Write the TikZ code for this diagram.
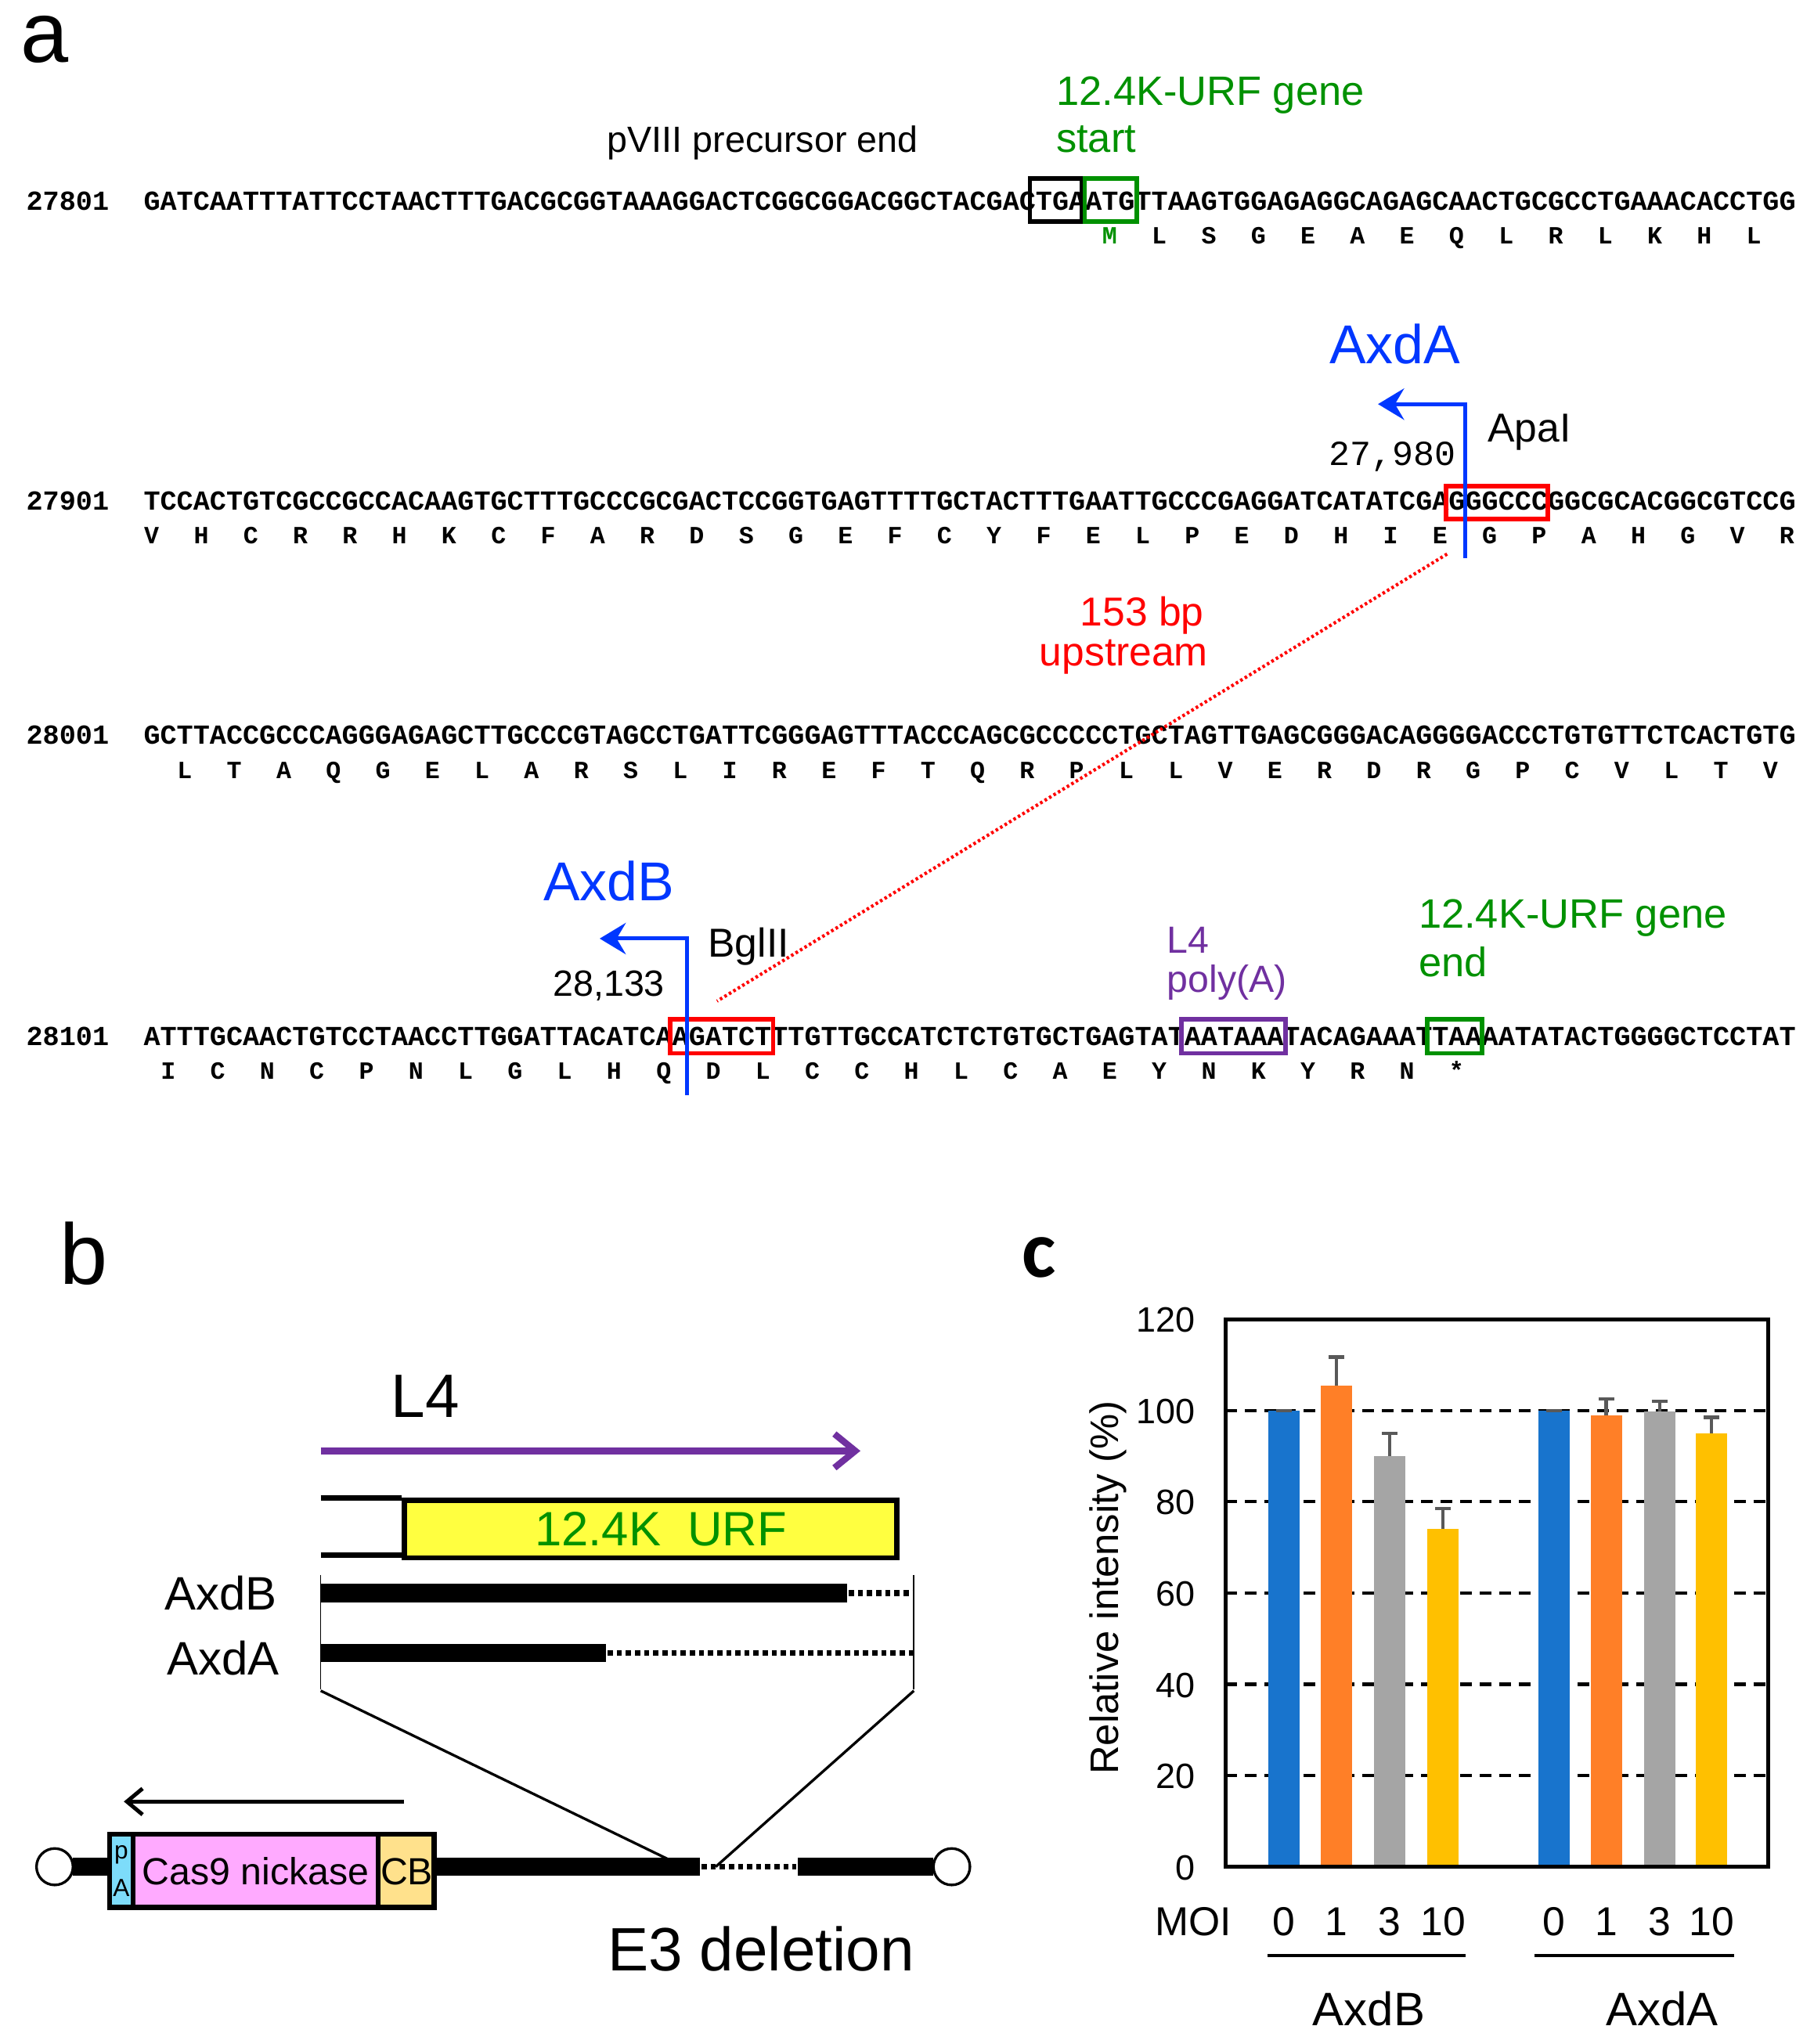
\documentclass[tikz,border=0pt]{standalone}
\usepackage{fontspec}
\setmainfont{Liberation Sans}
\newfontfamily\seqfont{Liberation Mono}
\newfontfamily\calfont{Carlito}
\usetikzlibrary{arrows.meta}
\definecolor{dgreen}{RGB}{0,145,0}
\definecolor{ablue}{RGB}{0,55,255}
\definecolor{ppl}{RGB}{112,48,160}
\definecolor{barblue}{RGB}{24,116,205}
\definecolor{barorange}{RGB}{255,127,39}
\definecolor{bargray}{RGB}{165,165,165}
\definecolor{baryellow}{RGB}{255,192,0}
\definecolor{errgray}{RGB}{89,89,89}
\definecolor{urfyellow}{RGB}{255,255,64}
\definecolor{pacyan}{RGB}{125,220,250}
\definecolor{caspink}{RGB}{255,170,255}
\definecolor{cbyellow}{RGB}{255,225,140}
\newcommand\fs[1]{\fontsize{#1}{#1}\selectfont}
\tikzset{
  seqline/.style={inner sep=0, anchor=base west, font={\seqfont\bfseries\fs{21.12}}},
  aaletter/.style={inner sep=0, anchor=base, font={\seqfont\bfseries\fs{19}}},
  numlabel/.style={inner sep=0, anchor=base west, font={\seqfont\bfseries\fs{21.12}}},
  lbl/.style={inner sep=0, font=\fs{31}},
  sitebox/.style={line width=3.5pt},
  bluearrow/.style={ablue, line width=3pt, -{Stealth[length=20pt,width=24pt,inset=7pt]}},
  thickbar/.style={line width=14pt},
  dotbar/.style={line width=4.5pt, dash pattern=on 4pt off 3pt},
}
\begin{document}
\begin{tikzpicture}[x=1pt,y=-1pt]
\useasboundingbox (0,0) rectangle (1391,1568);
% ---------------- panel a ----------------
\node[inner sep=0, anchor=base west, font=\fs{66}, text height=0.55em] (la) at (16,48) {a};

\node[numlabel] (n1) at (20,161) {27801};
\node[numlabel] (n2) at (20,391) {27901};
\node[numlabel] (n3) at (20,571) {28001};
\node[numlabel] (n4) at (20,802) {28101};

\node[seqline] (s1) at (110,161) {GATCAATTTATTCCTAACTTTGACGCGGTAAAGGACTCGGCGGACGGCTACGACTGAATGTTAAGTGGAGAGGCAGAGCAACTGCGCCTGAAACACCTGG};
\node[seqline] (s2) at (110,391) {TCCACTGTCGCCGCCACAAGTGCTTTGCCCGCGACTCCGGTGAGTTTTGCTACTTTGAATTGCCCGAGGATCATATCGAGGGCCCGGCGCACGGCGTCCG};
\node[seqline] (s3) at (110,571) {GCTTACCGCCCAGGGAGAGCTTGCCCGTAGCCTGATTCGGGAGTTTACCCAGCGCCCCCTGCTAGTTGAGCGGGACAGGGGACCCTGTGTTCTCACTGTG};
\node[seqline] (s4) at (110,802) {ATTTGCAACTGTCCTAACCTTGGATTACATCAAGATCTTTGTTGCCATCTCTGTGCTGAGTATAATAAATACAGAAATTAAAATATACTGGGGCTCCTAT};

% amino acids
\node[aaletter, text=dgreen] (a1-1) at ({110+58.5*12.67},187) {M};
\foreach \amin [count=\idx from 2] in {L,S,G,E,A,E,Q,L,R,L,K,H,L}
  \node[aaletter] (a1-\idx) at ({110+(55.5+3*\idx)*12.67},187) {\amin};
\foreach \amin [count=\idx] in {V,H,C,R,R,H,K,C,F,A,R,D,S,G,E,F,C,Y,F,E,L,P,E,D,H,I,E,G,P,A,H,G,V,R}
  \node[aaletter] (a2-\idx) at ({110+(3*\idx-2.5)*12.67},417) {\amin};
\foreach \amin [count=\idx] in {L,T,A,Q,G,E,L,A,R,S,L,I,R,E,F,T,Q,R,P,L,L,V,E,R,D,R,G,P,C,V,L,T,V}
  \node[aaletter] (a3-\idx) at ({110+(3*\idx-0.5)*12.67},597) {\amin};
\foreach \amin [count=\idx] in {I,C,N,C,P,N,L,G,L,H,Q,D,L,C,C,H,L,C,A,E,Y,N,K,Y,R,N,*}
  \node[aaletter] (a4-\idx) at ({110+(3*\idx-1.5)*12.67},828) {\amin};

% site boxes
\draw[sitebox, black] (790,137) rectangle (830,170);
\draw[sitebox, dgreen] (832,137) rectangle (872,170);
\draw[sitebox, red] (1109,373) rectangle (1187,398);
\draw[sitebox, red] (514,782) rectangle (593,808);
\draw[sitebox, ppl] (906,782) rectangle (986,808);
\draw[sitebox, dgreen] (1095,782) rectangle (1137,808);

% labels line 1
\node[lbl, anchor=base, font=\fs{28}] (pviii) at (585,117) {pVIII precursor end};
\node[lbl, anchor=base west, text=dgreen, font=\fs{31.5}] (urfs1) at (810,81) {12.4K-URF gene};
\node[lbl, anchor=base west, text=dgreen, font=\fs{31.5}] (urfs2) at (810,117) {start};

% AxdA / ApaI
\node[lbl, anchor=base, text=ablue, font=\fs{42}] (axda) at (1070,279) {AxdA};
\node[lbl, anchor=base west] (apai) at (1141,339) {ApaI};
\node[inner sep=0, anchor=base east, font={\seqfont\fs{27}}] (p27980) at (1117,357) {27,980};
\coordinate (apaBot) at (1124,428);
\coordinate (apaTop) at (1124,310);
\coordinate (apaTip) at (1057,310);
\draw[bluearrow] (apaBot) -- (apaTop) -- (apaTip);

% 153 bp
\node[lbl, anchor=base, text=red] (bp153) at (876,480) {153 bp};
\node[lbl, anchor=base, text=red] (upstr) at (862,511) {upstream};
\coordinate (dotA) at (1110,425);
\coordinate (dotB) at (550,768);
\draw[red, line width=2.5pt, dash pattern=on 2pt off 2pt] (dotA) -- (dotB);

% AxdB / BglII
\node[lbl, anchor=base, text=ablue, font=\fs{42}] (axdb) at (467,691) {AxdB};
\node[lbl, anchor=base west] (bglii) at (543,734) {BglII};
\node[lbl, anchor=base east, font=\fs{28}] (p28133) at (510,764) {28,133};
\coordinate (bglBot) at (527,840);
\coordinate (bglTop) at (527,720);
\coordinate (bglTip) at (460,720);
\draw[bluearrow] (bglBot) -- (bglTop) -- (bglTip);

% L4 polyA / URF end
\node[lbl, anchor=base west, text=ppl, font=\fs{29}] (l4a) at (895,731) {L4};
\node[lbl, anchor=base west, text=ppl, font=\fs{29}] (polya) at (895,761) {poly(A)};
\node[lbl, anchor=base west, text=dgreen, font=\fs{31.5}] (urfe1) at (1088,712) {12.4K-URF gene};
\node[lbl, anchor=base west, text=dgreen, font=\fs{31.5}] (urfe2) at (1088,749) {end};

% ---------------- panel b ----------------
\node[inner sep=0, anchor=base west, font=\fs{66}] (lb) at (46,985) {b};
\node[inner sep=0, anchor=base west, font=\fs{47}] (l4b) at (300,1087) {L4};
\coordinate (l4s) at (246,1113);
\coordinate (l4e) at (660,1113);
\draw[ppl, line width=5pt, -{Straight Barb[length=16pt,width=26pt,line width=5pt]}] (l4s) -- (l4e);

\draw[line width=4pt] (246,1149) -- (308,1149) (246,1193) -- (308,1193);
\node[draw, line width=4pt, fill=urfyellow, minimum width=378pt, minimum height=44pt, inner sep=0, anchor=north west] (urf) at (308,1149) {};
\node[inner sep=0, anchor=base, text=dgreen, font=\fs{37}] (urftxt) at (507,1186) {12.4K\ \ URF};

\node[inner sep=0, anchor=base west, font=\fs{36}] (axdbb) at (126,1235) {AxdB};
\node[inner sep=0, anchor=base west, font=\fs{36}] (axdab) at (128,1285) {AxdA};
\draw[thickbar] (246,1222) -- (650,1222);
\draw[dotbar] (651,1222) -- (700,1222);
\draw[thickbar] (246,1268) -- (465,1268);
\draw[dotbar] (466,1268) -- (700,1268);
\draw[line width=1pt] (246,1208) -- (246,1296) (701,1208) -- (701,1296);

\coordinate (zl) at (246,1297);
\coordinate (zr) at (701,1297);
\coordinate (zlb) at (512,1426);
\coordinate (zrb) at (549,1432);
\draw[line width=2pt] (zl) -- (zlb) (zr) -- (zrb);

\coordinate (casA) at (310,1382);
\coordinate (casB) at (95,1382);
\draw[line width=3pt, -{Straight Barb[length=12pt,width=20pt,line width=3pt]}] (casA) -- (casB);

\draw[thickbar] (56,1432) -- (84,1432);
\draw[thickbar] (333,1432) -- (537,1432);
\draw[dotbar] (538,1432) -- (611,1432);
\draw[thickbar] (612,1432) -- (716,1432);
\node[draw, line width=2pt, circle, fill=white, minimum size=28pt, inner sep=0] (ltr1) at (42,1432) {};
\node[draw, line width=2pt, circle, fill=white, minimum size=28pt, inner sep=0] (ltr2) at (730,1432) {};

\fill[pacyan] (84,1407) rectangle (102,1463);
\fill[caspink] (102,1407) rectangle (290,1463);
\fill[cbyellow] (290,1407) rectangle (333,1463);
\draw[line width=4pt] (84,1407) rectangle (333,1463) (102,1407) -- (102,1463) (290,1407) -- (290,1463);
\node[inner sep=0, anchor=base, font=\fs{19}] (pap) at (93,1426) {p};
\node[inner sep=0, anchor=base, font=\fs{19}] (paa) at (93,1455) {A};
\node[inner sep=0, anchor=base, font=\fs{29}] (cas9) at (196,1446) {Cas9 nickase};
\node[inner sep=0, anchor=base, font=\fs{29}] (cb) at (312,1446) {CB};
\node[inner sep=0, anchor=base west, font=\fs{47}] (e3) at (466,1512) {E3 deletion};

% ---------------- panel c ----------------
\node[inner sep=0, anchor=base west, font={\calfont\bfseries\fs{62}}] (lc) at (784,980) {c};

\foreach \val in {20,40,...,100}
  \draw[line width=2.5pt, dash pattern=on 9pt off 6pt] (940,{1432-3.5*\val}) -- (1356,{1432-3.5*\val});

\foreach \xc/\hv/\ev/\colr [count=\idx] in {985/100/100/barblue, 1025/105.5/111.7/barorange, 1066/90/95/bargray, 1107/74/78.5/baryellow, 1192/100/100/barblue, 1232/99/102.5/barorange, 1273/99.7/102/bargray, 1313/95/98.5/baryellow} {
  \fill[\colr] ({\xc-12},1432) rectangle ({\xc+12},{1432-3.5*\hv});
  \draw[errgray, line width=2.5pt] (\xc,{1432-3.5*\hv}) -- (\xc,{1432-3.5*\ev}) ({\xc-6},{1432-3.5*\ev}) -- ({\xc+6},{1432-3.5*\ev});
}
\draw[line width=3pt] (940,1012) rectangle (1356,1432);

\foreach \val in {0,20,...,120}
  \node[inner sep=0, anchor=base east, font=\fs{27}] (tk\val) at (917,{1432-3.5*\val+10}) {\val};
\node[inner sep=0, rotate=90, font=\fs{30.5}] (ylab) at (850,1218) {Relative intensity (\%)};

\node[inner sep=0, anchor=base west, font=\fs{31}] (moi) at (886,1485) {MOI};
\foreach \xc/\lab [count=\idx] in {985/0,1025/1,1066/3,1107/10,1192/0,1232/1,1273/3,1313/10}
  \node[inner sep=0, anchor=base, font=\fs{31}] (mx\idx) at (\xc,1485) {\lab};
\draw[line width=2.5pt] (972,1500) -- (1124,1500) (1177,1500) -- (1330,1500);
\node[inner sep=0, anchor=base, font=\fs{36}] (gB) at (1050,1554) {AxdB};
\node[inner sep=0, anchor=base, font=\fs{36}] (gA) at (1275,1554) {AxdA};
\end{tikzpicture}
\end{document}
